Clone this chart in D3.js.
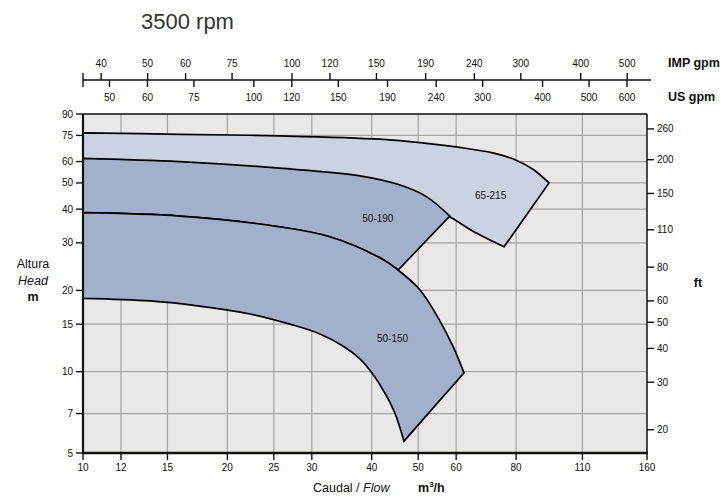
<!DOCTYPE html>
<html>
<head>
<meta charset="utf-8">
<script src="https://cdn.jsdelivr.net/npm/d3@7"></script>
<style>
	body{margin:0;background:#fff;}
	svg text{font-family:"Liberation Sans", Arial, Helvetica, sans-serif;fill:#111;}
</style>
</head>
<body>
<div id="chart"></div>
<script>
// axis ticks (flow in m3/h, head in m)
const flowTicks = [10, 12, 15, 20, 25, 30, 40, 50, 60, 80, 110, 150];
const flowTickLabels = ["10", "12", "15", "20", "25", "30", "40", "50", "60", "80", "110", "160"];
const headTicks = [5, 7, 10, 15, 20, 30, 40, 50, 60, 75, 90];
const ftTicks = [20, 30, 40, 50, 60, 80, 110, 150, 200, 260];
const impTicks = [40, 50, 60, 75, 100, 120, 150, 190, 240, 300, 400, 500];
const usTicks = [50, 60, 75, 100, 120, 150, 190, 240, 300, 400, 500, 600];

// pump ranges, [flow m3/h, head m]
const top65_215 = [[10, 76.6], [15.9, 75.7], [25.7, 74.7], [41.6, 72.6], [52.0, 70.1], [61.0, 67.7], [71.5, 64.6], [79.4, 61.1], [86.6, 56.3], [93.7, 50.0]];
const low65_215 = [[75.5, 29.0], [66.1, 32.6], [58.2, 37.5], [52.0, 42.0], [41.6, 48.0], [25.7, 52.0], [10, 55.0]];
const top50_190 = [[10, 61.7], [15.9, 60.0], [25.7, 56.7], [37.8, 53.1], [46.0, 49.0], [52.0, 44.5], [58.2, 37.7]];
const top50_150 = [[10, 38.8], [15.9, 37.7], [25.7, 34.4], [32.7, 31.6], [41.6, 26.4], [45.4, 23.8], [50.4, 20.1], [55.4, 15.5], [59.1, 12.4], [62.3, 9.9]];
const low50_150 = [[46.7, 5.53], [44.7, 7.03], [42.6, 8.34], [40.2, 9.8], [37.8, 11.15], [35.1, 12.35], [31.2, 13.8], [27.0, 15.0], [22.3, 16.36], [17.5, 17.5], [13.8, 18.28], [10, 18.7]];
const pumpLabels = [{name:"65-215", q:70.8, h:45.1}, {name:"50-190", q:41.2, h:36.8}, {name:"50-150", q:44.2, h:13.3}];

const M_TO_FT = 3.2808, M3H_TO_IMP = 3.666, M3H_TO_US = 4.403;

let w = 726, h = 498,
	xScale = d3.scaleLog().domain([10, 150]).range([83, 647]),
	yScale = d3.scaleLog().domain([5, 90]).range([453, 114]),
	x0 = xScale(10), x1 = xScale(150), y0 = yScale(5), y1 = yScale(90);

let svg = d3.select("#chart").append("svg").attr("width", w).attr("height", h);

svg.append("text").attr("x", 141).attr("y", 29)
	.style("font-size", "22px").style("fill", "#333").text("3500 rpm");

// plot background
svg.append("rect").attr("x", x0).attr("y", y1).attr("width", x1 - x0).attr("height", y0 - y1)
	.style("fill", "#e9e8e6");

// grid
let grid = svg.append("g").style("stroke", "#a3a3a3").style("stroke-width", 1.2);
flowTicks.slice(1, -1).forEach(function(v){
	grid.append("line").attr("x1", xScale(v)).attr("x2", xScale(v)).attr("y1", y1).attr("y2", y0);
});
headTicks.slice(1, -1).forEach(function(v){
	grid.append("line").attr("x1", x0).attr("x2", x1).attr("y1", yScale(v)).attr("y2", yScale(v));
});

// pump areas
let lineGen = d3.line().x(d => xScale(d[0])).y(d => yScale(d[1])).curve(d3.curveCatmullRom);
function area(){
	let p = "";
	for(let i = 0; i < arguments.length; i++){
		let s = lineGen(arguments[i]);
		p += (i === 0) ? s : s.replace(/^M/, "L");
	}
	return p + "Z";
}
let areas = svg.append("g").style("stroke", "#000").style("stroke-width", 1.7).style("stroke-linejoin", "miter");
areas.append("path").attr("d", area(top65_215, low65_215)).style("fill", "#cbd2e1");
let low50_190 = top50_150.filter(d => d[0] <= 45.4).reverse();
areas.append("path").attr("d", area(top50_190, low50_190)).style("fill", "#a3b0cb");
areas.append("path").attr("d", area(top50_150, low50_150)).style("fill", "#a3b0cb");

pumpLabels.forEach(function(d){
	svg.append("text").attr("x", xScale(d.q)).attr("y", yScale(d.h))
		.attr("text-anchor", "middle").attr("dominant-baseline", "central")
		.style("font-size", "10px").text(d.name);
});

// frame
let frame = svg.append("g").style("stroke", "#111").style("fill", "none");
frame.append("line").attr("x1", x0).attr("x2", x1).attr("y1", y1).attr("y2", y1).style("stroke-width", 1.5);
frame.append("line").attr("x1", x1).attr("x2", x1).attr("y1", y1).attr("y2", y0).style("stroke-width", 1.5);
frame.append("line").attr("x1", x0).attr("x2", x0).attr("y1", y1).attr("y2", y0 + 1).style("stroke-width", 2.2);
frame.append("line").attr("x1", x0 - 1).attr("x2", x1 + 1).attr("y1", y0).attr("y2", y0).style("stroke-width", 2.4);

// left axis (m)
headTicks.forEach(function(v){
	frame.append("line").attr("x1", x0 - 7).attr("x2", x0).attr("y1", yScale(v)).attr("y2", yScale(v)).style("stroke-width", 1.4);
	svg.append("text").attr("x", x0 - 10).attr("y", yScale(v)).attr("text-anchor", "end")
		.attr("dominant-baseline", "central").style("font-size", "10px").text(v);
});
// right axis (ft)
ftTicks.forEach(function(v){
	let y = yScale(v / M_TO_FT);
	frame.append("line").attr("x1", x1).attr("x2", x1 + 7).attr("y1", y).attr("y2", y).style("stroke-width", 1.4);
	svg.append("text").attr("x", x1 + 10).attr("y", y)
		.attr("dominant-baseline", "central").style("font-size", "10px").text(v);
});
// bottom axis
flowTicks.forEach(function(v, i){
	frame.append("line").attr("x1", xScale(v)).attr("x2", xScale(v)).attr("y1", y0).attr("y2", y0 + 7).style("stroke-width", 1.4);
	svg.append("text").attr("x", xScale(v)).attr("y", y0 + 18).attr("text-anchor", "middle")
		.style("font-size", "10px").text(flowTickLabels[i]);
});

// top axes (gpm)
let topY = 80;
frame.append("line").attr("x1", x0).attr("x2", 651).attr("y1", topY).attr("y2", topY).style("stroke-width", 1.6);
frame.append("line").attr("x1", x0).attr("x2", x0).attr("y1", topY - 7).attr("y2", topY + 7).style("stroke-width", 1.4);
impTicks.forEach(function(v){
	let x = xScale(v / M3H_TO_IMP);
	frame.append("line").attr("x1", x).attr("x2", x).attr("y1", topY - 7).attr("y2", topY).style("stroke-width", 1.4);
	svg.append("text").attr("x", x).attr("y", topY - 13).attr("text-anchor", "middle")
		.style("font-size", "10px").text(v);
});
usTicks.forEach(function(v){
	let x = xScale(v / M3H_TO_US);
	frame.append("line").attr("x1", x).attr("x2", x).attr("y1", topY).attr("y2", topY + 7).style("stroke-width", 1.4);
	svg.append("text").attr("x", x).attr("y", topY + 21).attr("text-anchor", "middle")
		.style("font-size", "10px").text(v);
});
svg.append("text").attr("x", 668).attr("y", 67).style("font-size", "12.5px").style("font-weight", "bold").text("IMP gpm");
svg.append("text").attr("x", 668).attr("y", 101).style("font-size", "12.5px").style("font-weight", "bold").text("US gpm");

// axis titles
let yTitle = svg.append("text").attr("text-anchor", "middle").style("font-size", "12.5px");
yTitle.append("tspan").attr("x", 33).attr("y", 268).text("Altura");
yTitle.append("tspan").attr("x", 33).attr("y", 285).style("font-style", "italic").text("Head");
yTitle.append("tspan").attr("x", 33).attr("y", 301).style("font-weight", "bold").text("m");
svg.append("text").attr("x", 698).attr("y", 287).attr("text-anchor", "middle")
	.style("font-size", "12.5px").style("font-weight", "bold").text("ft");

let xTitle = svg.append("text").attr("x", 313).attr("y", 492).style("font-size", "12.5px");
xTitle.append("tspan").text("Caudal / ");
xTitle.append("tspan").style("font-style", "italic").text("Flow");
let unit = svg.append("text").attr("x", 418).attr("y", 492).style("font-size", "12.5px").style("font-weight", "bold");
unit.append("tspan").text("m");
unit.append("tspan").attr("dy", -5).style("font-size", "8px").text("3");
unit.append("tspan").attr("dy", 5).text("/h");
</script>
</body>
</html>
